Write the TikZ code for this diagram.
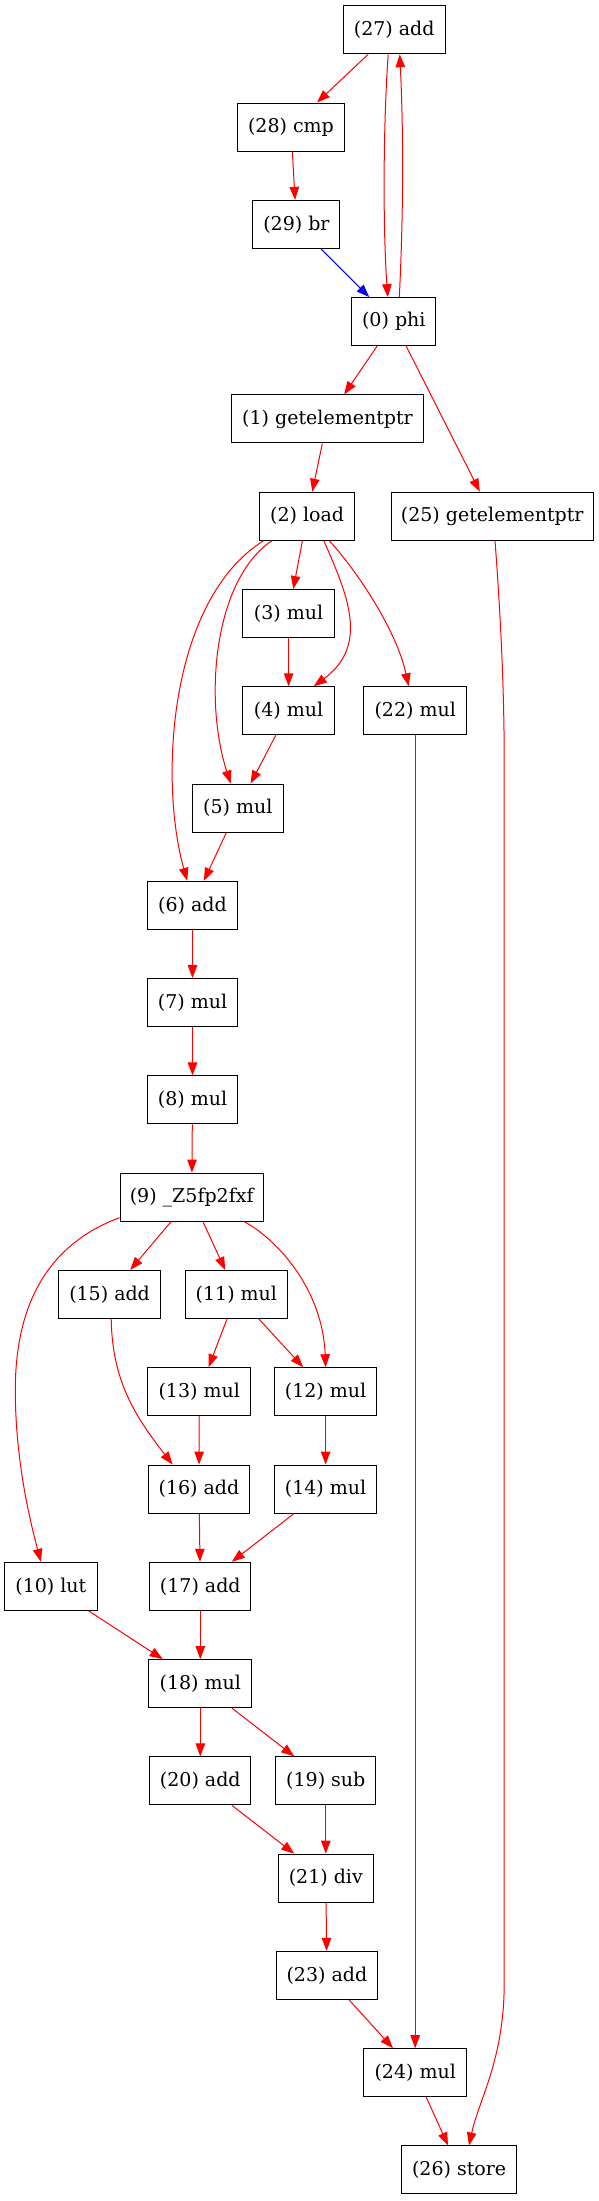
\documentclass[tikz,border=0pt]{standalone}
\usepackage{fontspec}
\newfontfamily\graphfont{DejaVu Serif}
\usepackage{tikz}
\usetikzlibrary{arrows.meta}

\begin{document}
\begin{tikzpicture}[x=1pt, y=-1pt, line width=1pt,
    instr/.style={rectangle, draw=black, fill=white, inner sep=0pt, minimum height=48pt,
        font=\graphfont\fontsize{19}{22}\selectfont},
    dep/.style={draw=red, ->},
    >={Triangle[length=13pt, width=9.5pt]}
    ]
    \useasboundingbox (0,0) rectangle (599,2201);
    \def\rowsep{97.28}

    % instructions: id / x / row / box width / opcode
    \foreach \id/\cx/\row/\bw/\lbl in {
        27/394.2/0/101.7/add, 28/291/1/107/cmp, 29/296.4/2/87.1/br,
        0/393.8/3/84/phi, 1/327.5/4/191.7/getelementptr,
        2/307.1/5/94.7/load, 25/492.2/5/202.3/getelementptr,
        3/288.6/6/91.3/mul, 4/288.6/7/91.3/mul, 22/415.2/7/103.1/mul,
        5/237.8/8/90.5/mul, 6/192.5/9/89.4/add, 7/192.5/10/90.9/mul,
        8/192.5/11/90.9/mul, 9/191.7/12/143.3/\_Z5fp2fxf,
        15/109.6/13/101.6/add, 11/236.4/13/102.4/mul,
        13/199.2/14/102.7/mul, 12/325.6/14/102.7/mul,
        16/199/15/101.6/add, 14/325.6/15/102.7/mul,
        10/50.9/16/92.8/lut, 17/200.3/16/101.2/add,
        18/200.3/17/102.7/mul,
        20/200.3/18/101.2/add, 19/325.8/18/100.1/sub,
        21/325.8/19/94.7/div, 23/326.9/20/101.6/add,
        24/415.2/21/103.1/mul, 26/459.1/22/114.6/store} {
        \node[instr, minimum width=\bw pt] (n\id) at (\cx, 29.8+\row*\rowsep) {(\id) \lbl};
    }

    % straight data edges
    \foreach \a/\b in {27/28, 28/29, 0/1, 0/25, 1/2, 2/3, 3/4, 4/5, 5/6,
        22/24, 6/7, 7/8, 8/9, 9/15, 9/11, 11/13, 11/12, 13/16, 12/14,
        16/17, 14/17, 10/18, 17/18, 18/20, 18/19, 20/21, 19/21,
        21/23, 23/24, 24/26} {
        \path[every edge/.style={draw=red}, ->] (n\a) edge (n\b);
    }

    % back edge of the loop
    \path[every edge/.style={draw=blue}, ->] (n29) edge (n0);

    % bent edges
    \draw[dep] ([xshift=-6pt]n27.south) .. controls +(-5,70) and +(-5,-70) .. ([xshift=-6pt]n0.north);
    \draw[dep] ([xshift=5.5pt]n0.north) .. controls +(4,-80) and +(4,80) .. ([xshift=5.5pt]n27.south);
    \draw[dep] ([xshift=16.7pt]n2.south) .. controls (347.6,595) and (369.4,645) .. ([xshift=25.2pt]n4.north);
    \draw[dep] ([xshift=22.1pt]n2.south) .. controls (349.6,562) and (395.3,625) .. ([xshift=-6.5pt]n22.north);
    \draw[dep] ([xshift=-35.2pt]n2.south) .. controls (213.5,580) and (203.6,700) .. ([xshift=-7.1pt]n5.north);
    \draw[dep] ([xshift=-43.5pt]n2.south) .. controls (168.8,600) and (158.9,780) .. ([xshift=-5.3pt]n6.north);
    \draw[dep] ([xshift=52.6pt]n9.south) .. controls (278,1240) and (322.8,1290) .. (n12.north);
    \draw[dep] ([yshift=4pt]n9.south west) .. controls (59.6,1240) and (15.3,1290) .. (15.3,1390)
        .. controls (15.3,1460) and (29.8,1520) .. ([xshift=-10pt]n10.north);
    \draw[dep] ([xshift=1.6pt]n15.south) .. controls (112.2,1380) and (134.1,1415) .. ([xshift=-26.4pt]n16.north);
    \draw[dep] ([xshift=2.8pt]n25.south) .. controls (499.5,600) and (504.2,680) .. (504.2,760)
        -- (504.2,1983) .. controls (504.2,2060) and (478.7,2100) .. ([xshift=9.9pt]n26.north);
\end{tikzpicture}
\end{document}
